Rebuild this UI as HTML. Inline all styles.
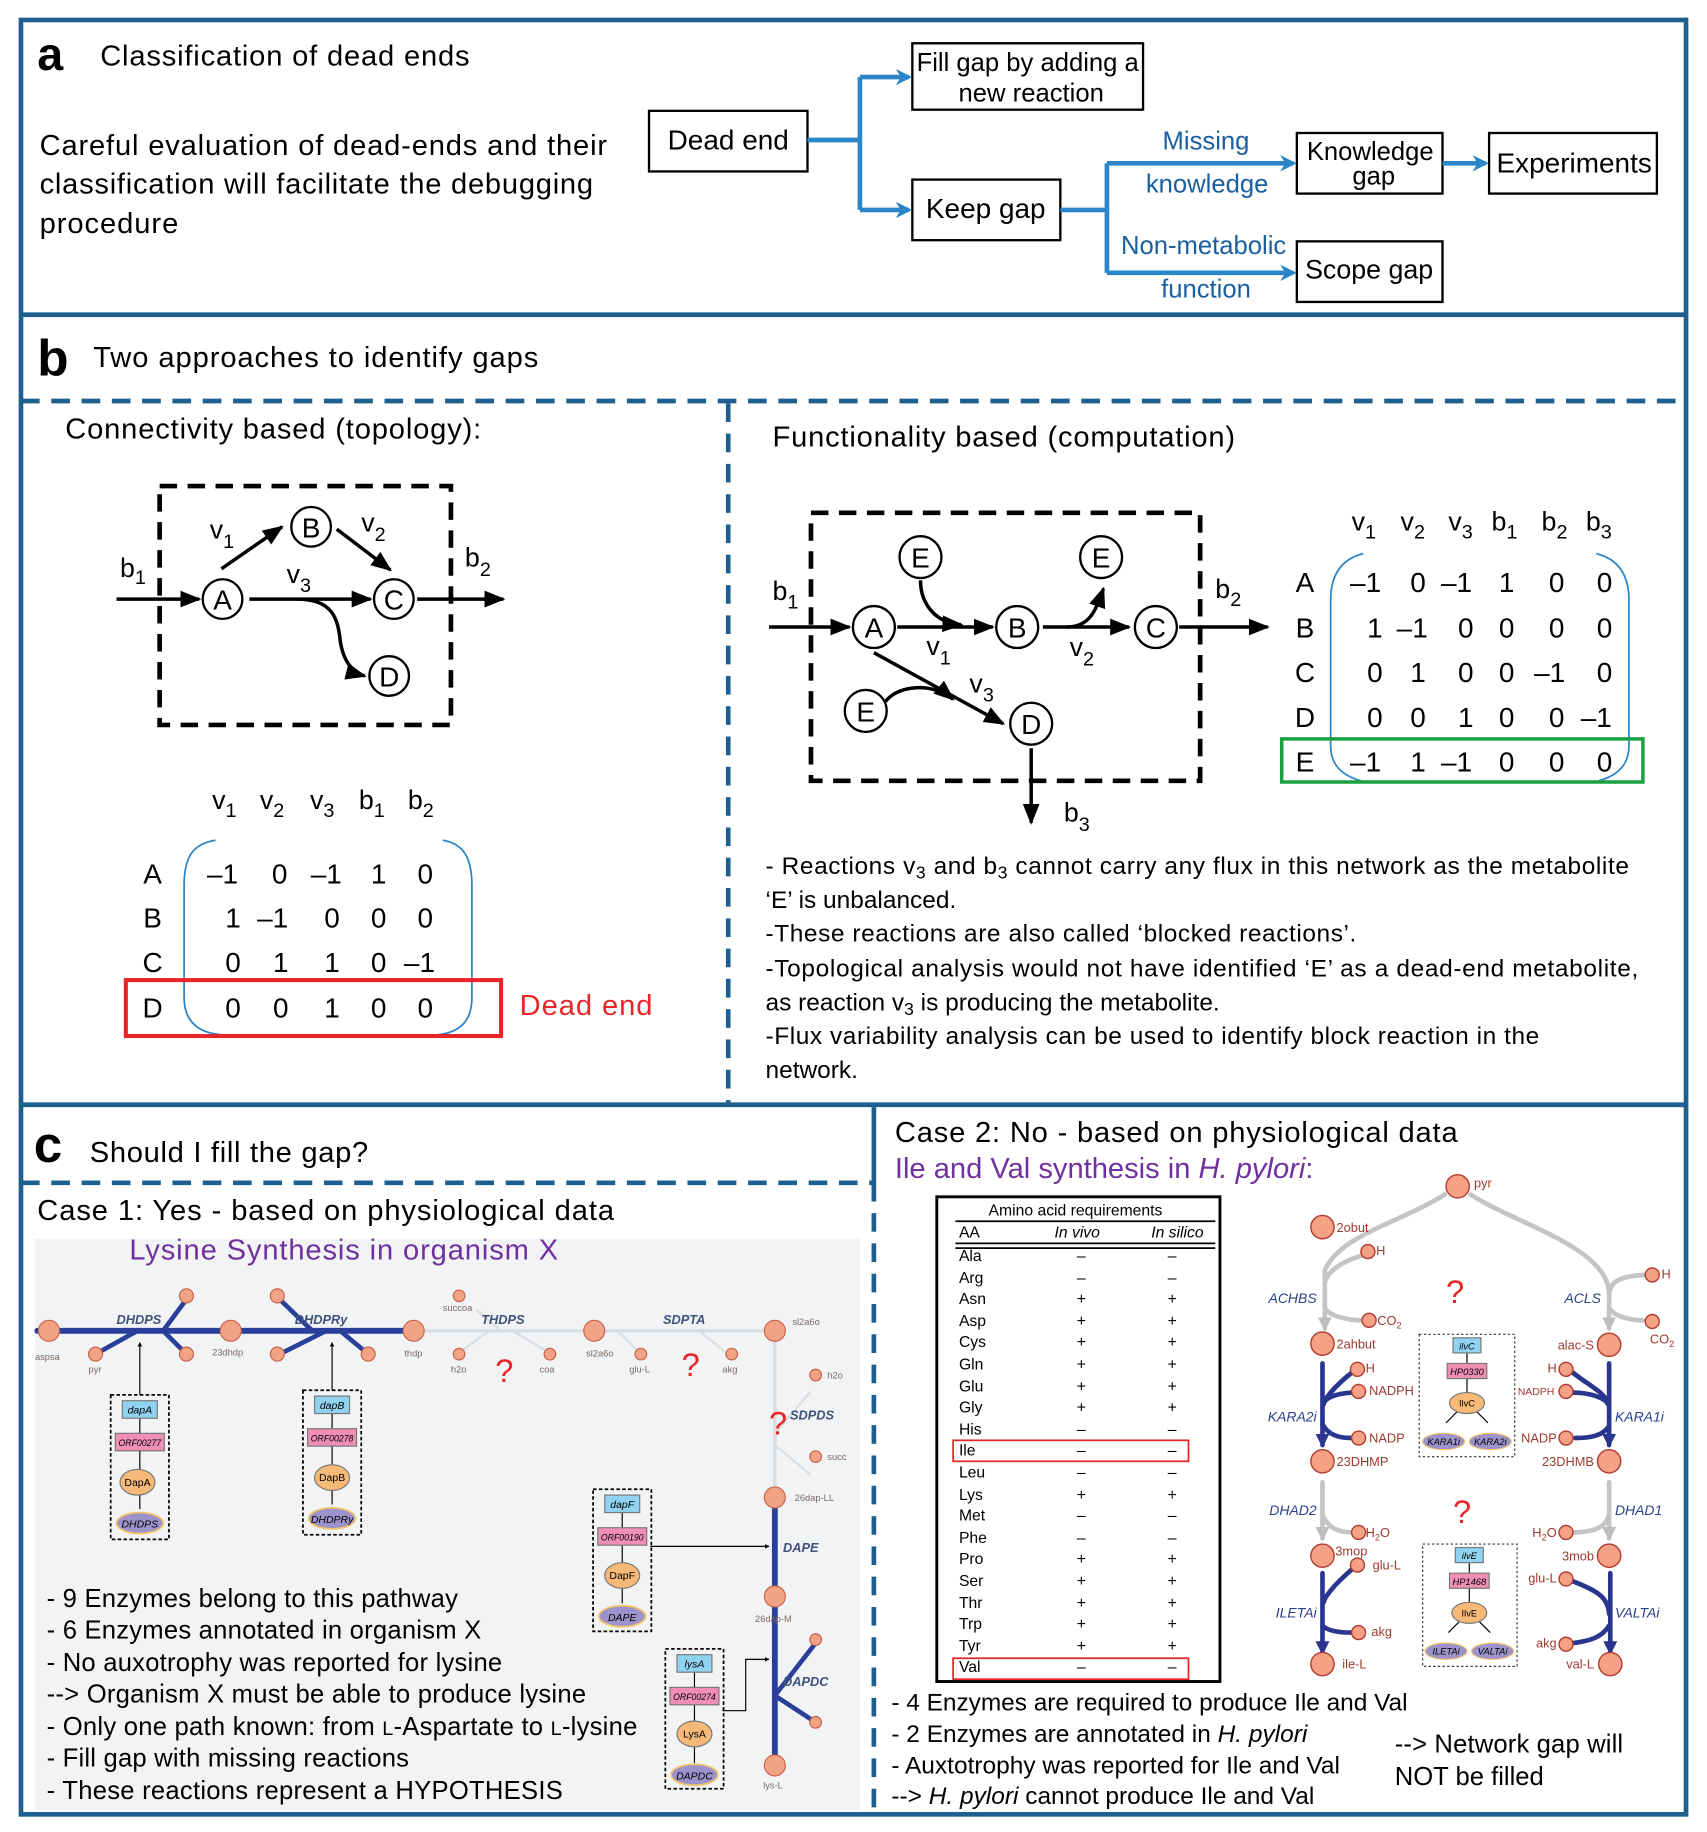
<!DOCTYPE html>
<html><head><meta charset="utf-8"><style>
html,body{margin:0;padding:0;background:#fff}
svg{display:block}
text{font-family:"Liberation Sans",Arial,sans-serif}
</style></head><body>
<svg width="1707" height="1832" viewBox="0 0 1465 1572" xmlns="http://www.w3.org/2000/svg">
<defs>
<marker id="ab" viewBox="0 0 10 10" refX="9" refY="5" markerWidth="4" markerHeight="4" orient="auto"><path d="M0,0 L10,5 L0,10 z" fill="#000"/></marker>
<marker id="abl" viewBox="0 0 10 10" refX="8" refY="5" markerWidth="3.5" markerHeight="4" orient="auto"><path d="M0,0 L10,5 L0,10 L3,5 z" fill="#2a86c8"/></marker>
<marker id="ak" viewBox="0 0 10 10" refX="9" refY="5" markerWidth="6" markerHeight="6" orient="auto"><path d="M0,1 L10,5 L0,9 z" fill="#000"/></marker>
<marker id="anv" viewBox="0 0 10 10" refX="8" refY="5" markerWidth="3" markerHeight="3" orient="auto"><path d="M0,0 L10,5 L0,10 z" fill="#2a3590"/></marker>
<marker id="agr" viewBox="0 0 10 10" refX="8" refY="5" markerWidth="3" markerHeight="3" orient="auto"><path d="M0,0 L10,5 L0,10 z" fill="#bdbdbd"/></marker>
</defs>

<!-- frames -->
<g stroke="#1d5f8e" stroke-width="4" fill="none">
<rect x="18" y="17" width="1429" height="1540"/>
<line x1="18" y1="270" x2="1447" y2="270"/>
<line x1="18" y1="948" x2="1447" y2="948"/>
<line x1="18" y1="344" x2="1447" y2="344" stroke-dasharray="16 10"/>
<line x1="625" y1="346" x2="625" y2="946" stroke-dasharray="16 10"/>
<line x1="750" y1="950" x2="750" y2="1015"/>
<line x1="750" y1="1015" x2="750" y2="1555" stroke-dasharray="16 10"/>
<line x1="18" y1="1015" x2="750" y2="1015" stroke-dasharray="16 10"/>
</g>

<!-- ===== a ===== -->
<text x="32" y="60" font-size="40" font-weight="bold">a</text>
<text x="86" y="56" font-size="25" textLength="317">Classification of dead ends</text>
<text x="34" y="133" font-size="25" textLength="487">Careful evaluation of dead-ends and their</text>
<text x="34" y="166" font-size="25" textLength="475">classification will facilitate the debugging</text>
<text x="34" y="200" font-size="25" textLength="119">procedure</text>

<g fill="#fff" stroke="#000" stroke-width="2">
<rect x="557" y="95" width="136" height="52"/>
<rect x="783" y="37" width="198" height="57"/>
<rect x="783" y="154" width="127" height="52"/>
<rect x="1113" y="114" width="125" height="52"/>
<rect x="1278" y="114" width="144" height="52"/>
<rect x="1113" y="207" width="125" height="52"/>
</g>
<text x="625" y="128" font-size="24" text-anchor="middle">Dead end</text>
<text x="882" y="61" font-size="22" text-anchor="middle">Fill gap by adding a</text>
<text x="885" y="87" font-size="22" text-anchor="middle">new reaction</text>
<text x="846" y="187" font-size="24" text-anchor="middle">Keep gap</text>
<text x="1176" y="137" font-size="22" text-anchor="middle">Knowledge</text>
<text x="1179" y="158" font-size="22" text-anchor="middle">gap</text>
<text x="1351" y="148" font-size="24" text-anchor="middle">Experiments</text>
<text x="1175" y="239" font-size="23" text-anchor="middle">Scope gap</text>

<g stroke="#2a86c8" stroke-width="4" fill="none">
<line x1="693" y1="120" x2="738" y2="120"/>
<line x1="738" y1="66" x2="738" y2="180"/>
<line x1="738" y1="66" x2="780" y2="66" marker-end="url(#abl)"/>
<line x1="738" y1="180" x2="780" y2="180" marker-end="url(#abl)"/>
<line x1="910" y1="180" x2="950" y2="180"/>
<line x1="950" y1="140" x2="950" y2="234"/>
<line x1="950" y1="140" x2="1110" y2="140" marker-end="url(#abl)"/>
<line x1="950" y1="234" x2="1110" y2="234" marker-end="url(#abl)"/>
<line x1="1238" y1="140" x2="1275" y2="140" marker-end="url(#abl)"/>
</g>
<g fill="#1a5fa0" font-size="22" text-anchor="middle">
<text x="1035" y="128">Missing</text>
<text x="1036" y="165">knowledge</text>
<text x="1033" y="218">Non-metabolic</text>
<text x="1035" y="255">function</text>
</g>

<!-- ===== b ===== -->
<text x="32" y="322" font-size="44" font-weight="bold">b</text>
<text x="80" y="315" font-size="25" textLength="382">Two approaches to identify gaps</text>
<text x="56" y="376" font-size="25" textLength="357">Connectivity based (topology):</text>

<rect x="137" y="417" width="250" height="205" fill="none" stroke="#000" stroke-width="4" stroke-dasharray="15 9"/>
<g fill="#fff" stroke="#000" stroke-width="2">
<circle cx="191" cy="514" r="17"/><circle cx="267" cy="452" r="17"/>
<circle cx="338" cy="514" r="17"/><circle cx="334" cy="580" r="17"/>
</g>
<g font-size="24" text-anchor="middle">
<text x="191" y="523">A</text><text x="267" y="461">B</text><text x="338" y="523">C</text><text x="334" y="589">D</text>
</g>
<g stroke="#000" stroke-width="3" fill="none">
<line x1="100" y1="514" x2="171" y2="514" marker-end="url(#ak)"/>
<line x1="190" y1="488" x2="242" y2="452" marker-end="url(#ak)"/>
<line x1="289" y1="454" x2="335" y2="489" marker-end="url(#ak)"/>
<line x1="214" y1="514" x2="318" y2="514" marker-end="url(#ak)"/>
<path d="M255 514 C285 514 290 530 292 550 C295 570 305 578 313 580" marker-end="url(#ak)"/>
<line x1="358" y1="514" x2="432" y2="514" marker-end="url(#ak)"/>
</g>
<g font-size="23">
<text x="103" y="495">b<tspan font-size="17" dy="6">1</tspan></text>
<text x="180" y="462">v<tspan font-size="17" dy="8">1</tspan></text>
<text x="310" y="456">v<tspan font-size="17" dy="8">2</tspan></text>
<text x="246" y="500">v<tspan font-size="17" dy="8">3</tspan></text>
<text x="399" y="486">b<tspan font-size="17" dy="8">2</tspan></text>
</g>
<g font-size="23">
<text x="182" y="694">v<tspan font-size="17" dy="7">1</tspan></text>
<text x="223" y="694">v<tspan font-size="17" dy="7">2</tspan></text>
<text x="266" y="694">v<tspan font-size="17" dy="7">3</tspan></text>
<text x="308" y="694">b<tspan font-size="17" dy="7">1</tspan></text>
<text x="350" y="694">b<tspan font-size="17" dy="7">2</tspan></text>
</g>
<g font-size="24" text-anchor="middle">
<text x="131" y="758">A</text><text x="131" y="796">B</text><text x="131" y="834">C</text><text x="131" y="873">D</text>
<text x="191" y="758">–1</text><text x="240" y="758">0</text><text x="280" y="758">–1</text><text x="325" y="758">1</text><text x="365" y="758">0</text>
<text x="200" y="796">1</text><text x="234" y="796">–1</text><text x="285" y="796">0</text><text x="325" y="796">0</text><text x="365" y="796">0</text>
<text x="200" y="834">0</text><text x="241" y="834">1</text><text x="285" y="834">1</text><text x="325" y="834">0</text><text x="360" y="834">–1</text>
<text x="200" y="873">0</text><text x="241" y="873">0</text><text x="285" y="873">1</text><text x="325" y="873">0</text><text x="365" y="873">0</text>
</g>
<g stroke="#2a86c8" stroke-width="1.5" fill="none">
<path d="M185 721 C165 724 158 736 158 760 L158 856 C158 875 168 886 190 888"/>
<path d="M380 721 C398 724 405 736 405 760 L405 856 C405 875 396 886 375 888"/>
</g>
<rect x="108" y="841" width="322" height="48" fill="none" stroke="#e8262a" stroke-width="3.5"/>
<text x="446" y="871" font-size="25" fill="#e8262a" textLength="114">Dead end</text>

<!-- right b -->
<text x="663" y="383" font-size="25" textLength="397">Functionality based (computation)</text>
<rect x="696" y="440" width="334" height="230" fill="none" stroke="#000" stroke-width="4" stroke-dasharray="15 9"/>
<g stroke="#000" stroke-width="3" fill="none">
<line x1="660" y1="538" x2="729" y2="538" marker-end="url(#ak)"/>
<line x1="770" y1="538" x2="852" y2="538" marker-end="url(#ak)"/>
<path d="M790 498 C790 520 805 535 825 536" marker-end="url(#ak)"/>
<line x1="895" y1="538" x2="969" y2="538" marker-end="url(#ak)"/>
<path d="M915 538 C935 538 940 525 947 505" marker-end="url(#ak)"/>
<line x1="750" y1="560" x2="861" y2="621" marker-end="url(#ak)"/>
<path d="M760 602 C770 588 800 585 818 600" marker-end="url(#ak)"/>
<line x1="885" y1="642" x2="885" y2="706" marker-end="url(#ak)"/>
<line x1="1012" y1="538" x2="1088" y2="538" marker-end="url(#ak)"/>
</g>
<g fill="#fff" stroke="#000" stroke-width="2">
<circle cx="750" cy="538" r="18"/><circle cx="873" cy="538" r="18"/><circle cx="992" cy="538" r="18"/>
<circle cx="790" cy="478" r="18"/><circle cx="945" cy="478" r="18"/><circle cx="743" cy="610" r="18"/>
<circle cx="885" cy="621" r="18"/>
</g>
<g font-size="24" text-anchor="middle">
<text x="750" y="547">A</text><text x="873" y="547">B</text><text x="992" y="547">C</text>
<text x="790" y="487">E</text><text x="945" y="487">E</text><text x="743" y="619">E</text><text x="885" y="630">D</text>
</g>
<g font-size="23">
<text x="663" y="515">b<tspan font-size="17" dy="7">1</tspan></text>
<text x="1043" y="513">b<tspan font-size="17" dy="7">2</tspan></text>
<text x="795" y="562">v<tspan font-size="17" dy="8">1</tspan></text>
<text x="918" y="563">v<tspan font-size="17" dy="8">2</tspan></text>
<text x="832" y="594">v<tspan font-size="17" dy="8">3</tspan></text>
<text x="913" y="705">b<tspan font-size="17" dy="8">3</tspan></text>
</g>
<g font-size="23">
<text x="1160" y="455">v<tspan font-size="17" dy="7">1</tspan></text>
<text x="1202" y="455">v<tspan font-size="17" dy="7">2</tspan></text>
<text x="1243" y="455">v<tspan font-size="17" dy="7">3</tspan></text>
<text x="1280" y="455">b<tspan font-size="17" dy="7">1</tspan></text>
<text x="1323" y="455">b<tspan font-size="17" dy="7">2</tspan></text>
<text x="1361" y="455">b<tspan font-size="17" dy="7">3</tspan></text>
</g>
<g font-size="24" text-anchor="middle">
<text x="1120" y="508">A</text><text x="1120" y="547">B</text><text x="1120" y="585">C</text><text x="1120" y="624">D</text><text x="1120" y="662">E</text>
<text x="1172" y="508">–1</text><text x="1217" y="508">0</text><text x="1250" y="508">–1</text><text x="1293" y="508">1</text><text x="1336" y="508">0</text><text x="1377" y="508">0</text>
<text x="1180" y="547">1</text><text x="1212" y="547">–1</text><text x="1258" y="547">0</text><text x="1293" y="547">0</text><text x="1336" y="547">0</text><text x="1377" y="547">0</text>
<text x="1180" y="585">0</text><text x="1217" y="585">1</text><text x="1258" y="585">0</text><text x="1293" y="585">0</text><text x="1330" y="585">–1</text><text x="1377" y="585">0</text>
<text x="1180" y="624">0</text><text x="1217" y="624">0</text><text x="1258" y="624">1</text><text x="1293" y="624">0</text><text x="1336" y="624">0</text><text x="1370" y="624">–1</text>
<text x="1172" y="662">–1</text><text x="1217" y="662">1</text><text x="1250" y="662">–1</text><text x="1293" y="662">0</text><text x="1336" y="662">0</text><text x="1377" y="662">0</text>
</g>
<g stroke="#2a86c8" stroke-width="1.5" fill="none">
<path d="M1170 475 C1150 480 1142 495 1142 515 L1142 640 C1142 655 1150 665 1168 670"/>
<path d="M1370 475 C1390 480 1398 495 1398 515 L1398 640 C1398 655 1390 665 1372 670"/>
</g>
<rect x="1100" y="634" width="310" height="37" fill="none" stroke="#1aa040" stroke-width="3"/>
<g font-size="21">
<text x="657" y="750" textLength="741">- Reactions v<tspan font-size="15" dy="4">3</tspan><tspan dy="-4"> and b</tspan><tspan font-size="15" dy="4">3</tspan><tspan dy="-4"> cannot carry any flux in this network as the metabolite</tspan></text>
<text x="657" y="779">‘E’ is unbalanced.</text>
<text x="657" y="808" textLength="507">-These reactions are also called ‘blocked reactions’.</text>
<text x="657" y="838" textLength="749">-Topological analysis would not have identified ‘E’ as a dead-end metabolite,</text>
<text x="657" y="867">as reaction v<tspan font-size="15" dy="4">3</tspan><tspan dy="-4"> is producing the metabolite.</tspan></text>
<text x="657" y="896" textLength="664">-Flux variability analysis can be used to identify block reaction in the</text>
<text x="657" y="925">network.</text>
</g>

<!-- ===== c ===== -->
<text x="29" y="997" font-size="44" font-weight="bold">c</text>
<text x="77" y="997" font-size="25" textLength="239">Should I fill the gap?</text>
<text x="32" y="1047" font-size="25" textLength="495">Case 1: Yes - based on physiological data</text>
<rect x="30" y="1063" width="708" height="490" fill="#f1f3f5"/>
<text x="111" y="1081" font-size="25" fill="#7030a0" textLength="368">Lysine Synthesis in organism X</text>

<!-- pathway -->
<g fill="none" stroke-linecap="round">
<line x1="355" y1="1142" x2="665" y2="1142" stroke="#dcdfe2" stroke-width="3"/>
<line x1="665" y1="1142" x2="665" y2="1285" stroke="#dcdfe2" stroke-width="3"/>
<path d="M665 1230 L695 1195 M665 1240 L695 1265 M440 1142 L470 1160 M430 1142 L410 1125 M530 1142 L548 1160 M600 1142 L622 1160 M420 1142 L395 1160" stroke="#dcdfe2" stroke-width="2"/>
<line x1="32" y1="1142" x2="355" y2="1142" stroke="#2a3f9a" stroke-width="5"/>
<path d="M118 1142 L82 1162 M140 1142 L160 1115 M140 1142 L160 1162 M280 1142 L240 1162 M268 1142 L240 1115 M292 1142 L316 1162" stroke="#2a3f9a" stroke-width="4"/>
<line x1="665" y1="1295" x2="665" y2="1510" stroke="#2a3f9a" stroke-width="5"/>
<path d="M665 1455 L700 1410 M665 1455 L700 1478" stroke="#2a3f9a" stroke-width="4"/>
</g>
<g fill="#f2a386" stroke="#c9624a" stroke-width="1">
<circle cx="42" cy="1142" r="9"/><circle cx="198" cy="1142" r="9"/><circle cx="355" cy="1142" r="9"/>
<circle cx="510" cy="1142" r="9"/><circle cx="665" cy="1142" r="9"/><circle cx="665" cy="1285" r="9"/>
<circle cx="665" cy="1370" r="9"/><circle cx="665" cy="1515" r="9"/>
<circle cx="82" cy="1162" r="6"/><circle cx="160" cy="1112" r="6"/><circle cx="160" cy="1162" r="6"/>
<circle cx="238" cy="1112" r="6"/><circle cx="238" cy="1162" r="6"/><circle cx="316" cy="1162" r="6"/>
<circle cx="394" cy="1112" r="5"/><circle cx="394" cy="1162" r="5"/><circle cx="472" cy="1162" r="5"/>
<circle cx="550" cy="1162" r="5"/><circle cx="628" cy="1162" r="5"/><circle cx="700" cy="1180" r="5"/>
<circle cx="700" cy="1250" r="5"/><circle cx="700" cy="1407" r="5"/><circle cx="700" cy="1478" r="5"/>
</g>
<g font-size="11" font-weight="bold" font-style="italic" fill="#40527a" font-family="Liberation Serif,serif">
<text x="100" y="1136">DHDPS</text><text x="253" y="1136">DHDPRy</text><text x="413" y="1136">THDPS</text>
<text x="569" y="1136">SDPTA</text><text x="678" y="1218">SDPDS</text><text x="672" y="1332">DAPE</text><text x="672" y="1447">DAPDC</text>
</g>
<g font-size="8" fill="#7a6a60">
<text x="30" y="1167">aspsa</text><text x="76" y="1178">pyr</text><text x="182" y="1163">23dhdp</text><text x="347" y="1164">thdp</text>
<text x="380" y="1125">succoa</text><text x="387" y="1178">h2o</text><text x="463" y="1178">coa</text><text x="503" y="1164">sl2a6o</text>
<text x="540" y="1178">glu-L</text><text x="620" y="1178">akg</text><text x="680" y="1137">sl2a6o</text><text x="710" y="1183">h2o</text>
<text x="710" y="1253">succ</text><text x="682" y="1288">26dap-LL</text><text x="648" y="1392">26dap-M</text><text x="655" y="1535">lys-L</text>
</g>
<g fill="#e8262a" font-size="28">
<text x="425" y="1186">?</text><text x="585" y="1181">?</text><text x="660" y="1231">?</text>
</g>

<!-- enzyme modules -->
<g stroke="#000" stroke-width="1">
<line x1="120" y1="1197" x2="120" y2="1152" marker-end="url(#ab)"/>
<line x1="285" y1="1193" x2="285" y2="1152" marker-end="url(#ab)"/>
<line x1="558" y1="1327" x2="660" y2="1327" marker-end="url(#ab)"/>
<path d="M620 1468 L640 1468 L640 1424 L660 1424" fill="none" marker-end="url(#ab)"/>
</g>
<g>
<g transform="translate(120,1197)">
<rect x="-25" y="0" width="50" height="124" fill="none" stroke="#000" stroke-width="1.5" stroke-dasharray="3 2"/>
<line x1="0" y1="20" x2="0" y2="98" stroke="#000"/>
<rect x="-15" y="5" width="30" height="15" fill="#8fd3f0" stroke="#777"/>
<rect x="-21" y="33" width="42" height="15" fill="#ef8fb4" stroke="#777"/>
<ellipse cx="-2" cy="75" rx="15" ry="11" fill="#f6b978" stroke="#777"/>
<ellipse cx="0" cy="110" rx="20" ry="9" fill="#9d93cc" stroke="#f4c46a" stroke-width="1.5"/>
<g font-size="9" text-anchor="middle"><text y="16" font-style="italic">dapA</text><text y="44" font-size="7.5" font-style="italic">ORF00277</text><text x="-2" y="78">DapA</text><text y="114" font-style="italic">DHDPS</text></g>
</g>
<g transform="translate(285,1193)">
<rect x="-25" y="0" width="50" height="124" fill="none" stroke="#000" stroke-width="1.5" stroke-dasharray="3 2"/>
<line x1="0" y1="20" x2="0" y2="98" stroke="#000"/>
<rect x="-15" y="5" width="30" height="15" fill="#8fd3f0" stroke="#777"/>
<rect x="-21" y="33" width="42" height="15" fill="#ef8fb4" stroke="#777"/>
<ellipse cx="0" cy="75" rx="15" ry="11" fill="#f6b978" stroke="#777"/>
<ellipse cx="0" cy="110" rx="20" ry="9" fill="#9d93cc" stroke="#f4c46a" stroke-width="1.5"/>
<g font-size="9" text-anchor="middle"><text y="16" font-style="italic">dapB</text><text y="44" font-size="7.5" font-style="italic">ORF00278</text><text y="78">DapB</text><text y="114" font-style="italic">DHDPRy</text></g>
</g>
<g transform="translate(534,1278)">
<rect x="-25" y="0" width="50" height="122" fill="none" stroke="#000" stroke-width="1.5" stroke-dasharray="3 2"/>
<line x1="0" y1="20" x2="0" y2="98" stroke="#000"/>
<rect x="-15" y="5" width="30" height="15" fill="#8fd3f0" stroke="#777"/>
<rect x="-21" y="33" width="42" height="15" fill="#ef8fb4" stroke="#777"/>
<ellipse cx="0" cy="74" rx="15" ry="11" fill="#f6b978" stroke="#777"/>
<ellipse cx="0" cy="109" rx="20" ry="9" fill="#9d93cc" stroke="#f4c46a" stroke-width="1.5"/>
<g font-size="9" text-anchor="middle"><text y="16" font-style="italic">dapF</text><text y="44" font-size="7.5" font-style="italic">ORF00190</text><text y="77">DapF</text><text y="113" font-style="italic">DAPE</text></g>
</g>
<g transform="translate(596,1415)">
<rect x="-25" y="0" width="50" height="120" fill="none" stroke="#000" stroke-width="1.5" stroke-dasharray="3 2"/>
<line x1="0" y1="20" x2="0" y2="98" stroke="#000"/>
<rect x="-15" y="5" width="30" height="15" fill="#8fd3f0" stroke="#777"/>
<rect x="-21" y="33" width="42" height="15" fill="#ef8fb4" stroke="#777"/>
<ellipse cx="0" cy="73" rx="15" ry="11" fill="#f6b978" stroke="#777"/>
<ellipse cx="0" cy="108" rx="20" ry="9" fill="#9d93cc" stroke="#f4c46a" stroke-width="1.5"/>
<g font-size="9" text-anchor="middle"><text y="16" font-style="italic">lysA</text><text y="44" font-size="7.5" font-style="italic">ORF00274</text><text y="76">LysA</text><text y="112" font-style="italic">DAPDC</text></g>
</g>
</g>

<g font-size="22">
<text x="40" y="1379" textLength="353">- 9 Enzymes belong to this pathway</text>
<text x="40" y="1406" textLength="373">- 6 Enzymes annotated in organism X</text>
<text x="40" y="1434" textLength="391">- No auxotrophy was reported for lysine</text>
<text x="40" y="1461" textLength="463">--&gt; Organism X must be able to produce lysine</text>
<text x="40" y="1489" textLength="507">- Only one path known: from <tspan font-size="17">L</tspan>-Aspartate to <tspan font-size="17">L</tspan>-lysine</text>
<text x="40" y="1516" textLength="311">- Fill gap with missing reactions</text>
<text x="40" y="1544" textLength="443">- These reactions represent a HYPOTHESIS</text>
</g>

<!-- right c -->
<text x="768" y="980" font-size="25" textLength="483">Case 2: No - based on physiological data</text>
<text x="768" y="1011" font-size="25" fill="#7030a0">Ile and Val synthesis in <tspan font-style="italic">H. pylori</tspan>:</text>

<rect x="804" y="1027" width="243" height="416" fill="none" stroke="#000" stroke-width="2.5"/>
<text x="923" y="1043" font-size="13.5" text-anchor="middle">Amino acid requirements</text>
<line x1="820" y1="1048" x2="1043" y2="1048" stroke="#000" stroke-width="1.5"/>
<g font-size="13.5"><text x="823" y="1062">AA</text><text x="905" y="1062" font-style="italic">In vivo</text><text x="988" y="1062" font-style="italic">In silico</text></g>
<line x1="820" y1="1067" x2="1043" y2="1067" stroke="#000" stroke-width="1.5"/>
<line x1="820" y1="1071" x2="1043" y2="1071" stroke="#000" stroke-width="1.5"/>
<g font-size="13.5">
<text x="823" y="1082">Ala</text><text x="823" y="1101">Arg</text><text x="823" y="1119">Asn</text><text x="823" y="1138">Asp</text><text x="823" y="1156">Cys</text>
<text x="823" y="1175">Gln</text><text x="823" y="1194">Glu</text><text x="823" y="1212">Gly</text><text x="823" y="1231">His</text><text x="823" y="1249">Ile</text>
<text x="823" y="1268">Leu</text><text x="823" y="1287">Lys</text><text x="823" y="1305">Met</text><text x="823" y="1324">Phe</text><text x="823" y="1342">Pro</text>
<text x="823" y="1361">Ser</text><text x="823" y="1380">Thr</text><text x="823" y="1398">Trp</text><text x="823" y="1417">Tyr</text><text x="823" y="1435">Val</text>
</g>
<g font-size="13.5" text-anchor="middle">
<text x="928" y="1082">–</text><text x="1006" y="1082">–</text>
<text x="928" y="1101">–</text><text x="1006" y="1101">–</text>
<text x="928" y="1119">+</text><text x="1006" y="1119">+</text>
<text x="928" y="1138">+</text><text x="1006" y="1138">+</text>
<text x="928" y="1156">+</text><text x="1006" y="1156">+</text>
<text x="928" y="1175">+</text><text x="1006" y="1175">+</text>
<text x="928" y="1194">+</text><text x="1006" y="1194">+</text>
<text x="928" y="1212">+</text><text x="1006" y="1212">+</text>
<text x="928" y="1231">–</text><text x="1006" y="1231">–</text>
<text x="928" y="1249">–</text><text x="1006" y="1249">–</text>
<text x="928" y="1268">–</text><text x="1006" y="1268">–</text>
<text x="928" y="1287">+</text><text x="1006" y="1287">+</text>
<text x="928" y="1305">–</text><text x="1006" y="1305">–</text>
<text x="928" y="1324">–</text><text x="1006" y="1324">–</text>
<text x="928" y="1342">+</text><text x="1006" y="1342">+</text>
<text x="928" y="1361">+</text><text x="1006" y="1361">+</text>
<text x="928" y="1380">+</text><text x="1006" y="1380">+</text>
<text x="928" y="1398">+</text><text x="1006" y="1398">+</text>
<text x="928" y="1417">+</text><text x="1006" y="1417">+</text>
<text x="928" y="1435">–</text><text x="1006" y="1435">–</text>
</g>
<rect x="818" y="1236" width="202" height="18" fill="none" stroke="#e8262a" stroke-width="1.5"/>
<rect x="818" y="1423" width="202" height="18" fill="none" stroke="#e8262a" stroke-width="1.5"/>

<!-- Ile/Val network -->
<g fill="none" stroke-linecap="round">
<g stroke="#c4c4c4" stroke-width="4">
<path d="M1240 1025 C1200 1050 1150 1060 1137 1090 L1137 1140" marker-end="url(#agr)"/>
<path d="M1175 1076 C1155 1080 1140 1090 1137 1100"/>
<path d="M1137 1122 C1140 1130 1160 1133 1168 1133"/>
<path d="M1262 1025 C1300 1050 1380 1070 1381 1110 L1381 1140" marker-end="url(#agr)"/>
<path d="M1412 1094 C1390 1095 1382 1100 1381 1110"/>
<path d="M1381 1122 C1385 1130 1400 1133 1410 1133"/>
<path d="M1135 1272 L1135 1320" marker-end="url(#agr)"/>
<path d="M1135 1300 C1140 1312 1150 1315 1160 1315"/>
<path d="M1381 1272 L1381 1320" marker-end="url(#agr)"/>
<path d="M1381 1300 C1378 1312 1365 1315 1350 1315"/>
</g>
<g stroke="#2a3590" stroke-width="4">
<path d="M1135 1170 L1135 1240" marker-end="url(#anv)"/>
<path d="M1160 1178 C1145 1190 1137 1200 1136 1205 M1160 1195 C1145 1196 1137 1200 1136 1205"/>
<path d="M1135 1222 C1140 1232 1150 1234 1160 1234"/>
<path d="M1381 1170 L1381 1240" marker-end="url(#anv)"/>
<path d="M1350 1178 C1365 1190 1378 1195 1380 1205 M1350 1195 C1365 1195 1378 1200 1380 1205"/>
<path d="M1380 1225 C1375 1232 1365 1234 1352 1234"/>
<path d="M1135 1350 L1135 1418" marker-end="url(#anv)"/>
<path d="M1160 1347 C1145 1360 1137 1370 1136 1375"/>
<path d="M1135 1395 C1140 1400 1150 1401 1160 1401"/>
<path d="M1382 1350 L1382 1418" marker-end="url(#anv)"/>
<path d="M1350 1357 C1370 1365 1380 1370 1381 1385"/>
<path d="M1381 1395 C1375 1405 1365 1408 1350 1410"/>
</g>
</g>
<g fill="#f4a185" stroke="#b03a2e" stroke-width="1.2">
<circle cx="1251" cy="1018" r="10"/><circle cx="1135" cy="1053" r="10"/><circle cx="1135" cy="1153" r="10"/>
<circle cx="1135" cy="1254" r="10"/><circle cx="1135" cy="1335" r="10"/><circle cx="1135" cy="1428" r="10"/>
<circle cx="1381" cy="1154" r="10"/><circle cx="1381" cy="1254" r="10"/><circle cx="1381" cy="1335" r="10"/><circle cx="1382" cy="1428" r="10"/>
<circle cx="1174" cy="1074" r="6"/><circle cx="1175" cy="1133" r="6"/><circle cx="1165" cy="1175" r="6"/>
<circle cx="1166" cy="1194" r="6"/><circle cx="1166" cy="1234" r="6"/><circle cx="1166" cy="1315" r="6"/>
<circle cx="1165" cy="1343" r="6"/><circle cx="1166" cy="1401" r="6"/>
<circle cx="1418" cy="1094" r="6"/><circle cx="1418" cy="1134" r="6"/><circle cx="1344" cy="1175" r="6"/>
<circle cx="1344" cy="1194" r="6"/><circle cx="1344" cy="1234" r="6"/><circle cx="1344" cy="1315" r="6"/>
<circle cx="1344" cy="1355" r="6"/><circle cx="1344" cy="1411" r="6"/>
</g>
<g font-size="11" fill="#9c3a2e">
<text x="1265" y="1019">pyr</text><text x="1147" y="1057">2obut</text><text x="1181" y="1077">H</text>
<text x="1182" y="1137">CO<tspan font-size="8" dy="3">2</tspan></text><text x="1147" y="1157">2ahbut</text><text x="1172" y="1178">H</text>
<text x="1175" y="1197">NADPH</text><text x="1175" y="1238">NADP</text><text x="1147" y="1258">23DHMP</text>
<text x="1172" y="1319">H<tspan font-size="8" dy="3">2</tspan><tspan dy="-3">O</tspan></text><text x="1146" y="1335">3mop</text><text x="1178" y="1347">glu-L</text>
<text x="1177" y="1404">akg</text><text x="1152" y="1432">ile-L</text>
<text x="1426" y="1097">H</text><text x="1416" y="1153">CO<tspan font-size="8" dy="3">2</tspan></text>
<text x="1368" y="1158" text-anchor="end">alac-S</text><text x="1336" y="1178" text-anchor="end">H</text>
<text x="1334" y="1197" text-anchor="end" font-size="9">NADPH</text><text x="1336" y="1238" text-anchor="end">NADP</text>
<text x="1368" y="1258" text-anchor="end">23DHMB</text><text x="1336" y="1319" text-anchor="end">H<tspan font-size="8" dy="3">2</tspan><tspan dy="-3">O</tspan></text>
<text x="1368" y="1339" text-anchor="end">3mob</text><text x="1336" y="1358" text-anchor="end">glu-L</text>
<text x="1336" y="1414" text-anchor="end">akg</text><text x="1368" y="1432" text-anchor="end">val-L</text>
</g>
<g font-size="12" font-style="italic" fill="#2a3f8a">
<text x="1130" y="1118" text-anchor="end">ACHBS</text><text x="1130" y="1220" text-anchor="end">KARA2i</text>
<text x="1130" y="1300" text-anchor="end">DHAD2</text><text x="1130" y="1388" text-anchor="end">ILETAi</text>
<text x="1374" y="1118" text-anchor="end">ACLS</text><text x="1386" y="1220">KARA1i</text>
<text x="1386" y="1300">DHAD1</text><text x="1386" y="1388">VALTAi</text>
</g>
<g fill="#e8262a" font-size="28"><text x="1241" y="1118">?</text><text x="1247" y="1307">?</text></g>
<g transform="translate(1259,1145)">
<rect x="-41" y="0" width="82" height="105" fill="none" stroke="#333" stroke-width="1" stroke-dasharray="2 2"/>
<line x1="0" y1="16" x2="0" y2="50" stroke="#000"/>
<path d="M-5 63 L-18 76 M5 63 L18 76" stroke="#000"/>
<rect x="-12" y="3" width="24" height="13" fill="#8fd3f0" stroke="#777"/>
<rect x="-17" y="25" width="34" height="13" fill="#ef8fb4" stroke="#777"/>
<ellipse cx="0" cy="59" rx="15" ry="9" fill="#f6b978" stroke="#777"/>
<ellipse cx="-20" cy="92" rx="18" ry="7" fill="#9d93cc" stroke="#f4c46a"/>
<ellipse cx="20" cy="92" rx="18" ry="7" fill="#9d93cc" stroke="#f4c46a"/>
<g font-size="8" font-style="italic" text-anchor="middle"><text y="13">ilvC</text><text y="35">HP0330</text><text y="62" font-style="normal">IlvC</text><text x="-20" y="95">KARA1i</text><text x="20" y="95">KARA2i</text></g>
</g>
<g transform="translate(1261,1325)">
<rect x="-40" y="0" width="81" height="105" fill="none" stroke="#333" stroke-width="1" stroke-dasharray="2 2"/>
<line x1="0" y1="16" x2="0" y2="50" stroke="#000"/>
<path d="M-5 63 L-18 76 M5 63 L18 76" stroke="#000"/>
<rect x="-12" y="3" width="24" height="13" fill="#8fd3f0" stroke="#777"/>
<rect x="-17" y="25" width="34" height="13" fill="#ef8fb4" stroke="#777"/>
<ellipse cx="0" cy="59" rx="15" ry="9" fill="#f6b978" stroke="#777"/>
<ellipse cx="-20" cy="92" rx="18" ry="7" fill="#9d93cc" stroke="#f4c46a"/>
<ellipse cx="20" cy="92" rx="18" ry="7" fill="#9d93cc" stroke="#f4c46a"/>
<g font-size="8" font-style="italic" text-anchor="middle"><text y="13">ilvE</text><text y="35">HP1468</text><text y="62" font-style="normal">IlvE</text><text x="-20" y="95">ILETAi</text><text x="20" y="95">VALTAi</text></g>
</g>

<g font-size="21">
<text x="765" y="1468" textLength="443">- 4 Enzymes are required to produce Ile and Val</text>
<text x="765" y="1495">- 2 Enzymes are annotated in <tspan font-style="italic">H. pylori</tspan></text>
<text x="765" y="1522" textLength="385">- Auxtotrophy was reported for Ile and Val</text>
<text x="765" y="1548">--&gt; <tspan font-style="italic">H. pylori</tspan> cannot produce Ile and Val</text>
</g>
<g font-size="22">
<text x="1197" y="1504" textLength="196">--&gt; Network gap will</text>
<text x="1197" y="1532">NOT be filled</text>
</g>
</svg>
</body></html>
